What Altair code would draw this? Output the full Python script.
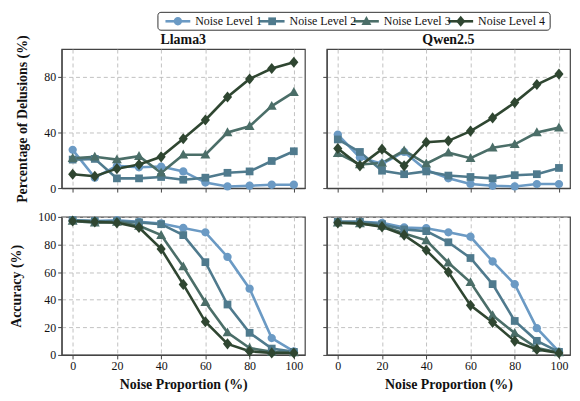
import altair as alt
import pandas as pd

noise = [0, 10, 20, 30, 40, 50, 60, 70, 80, 90, 100]
levels = ["Noise Level 1", "Noise Level 2", "Noise Level 3", "Noise Level 4"]
colors = ["#6b9ac4", "#4f7a8d", "#4b6e68", "#2f4631"]

# Percentage of delusions
llama3_del_1 = [27.5, 7.5, 16, 15, 15.5, 12, 4, 1.2, 1.7, 2.4, 2.4]
llama3_del_2 = [20.5, 21, 7, 7, 8, 6, 7.5, 11, 12, 19.5, 26.5]
llama3_del_3 = [21.5, 22.5, 20.5, 23, 11, 24, 24, 40, 44.5, 59, 69]
llama3_del_4 = [10, 8.5, 14, 17, 22.5, 35.5, 49, 65.5, 78.5, 86, 90.5]

qwen_del_1 = [38.5, 22, 17.5, 26, 13, 7, 3, 1.7, 1.2, 2.9, 2.9]
qwen_del_2 = [35, 26, 12.5, 10, 12, 9, 8, 7, 9.3, 10, 14.5]
qwen_del_3 = [25, 17, 18, 27, 17.5, 25.5, 21.5, 29, 31.5, 40, 43.5]
qwen_del_4 = [28.5, 16, 28, 16, 33, 34, 41, 50.5, 61.5, 74.5, 82]

# Accuracy
llama3_acc_1 = [97.6, 97, 97.6, 96.4, 95.2, 92, 88.8, 71, 48, 12.2, 2.6]
llama3_acc_2 = [97.6, 97, 96.9, 96, 94.7, 86.8, 67.2, 36.5, 16, 4.6, 2.2]
llama3_acc_3 = [97, 95.7, 96.4, 93.5, 86.8, 64, 38.2, 16.2, 5, 2.2, 1.7]
llama3_acc_4 = [97, 96.4, 95.7, 92.3, 76.8, 51.1, 24, 8, 2.6, 1.4, 1.4]

qwen_acc_1 = [96.4, 96.4, 95.7, 92.3, 91.8, 88.8, 85.6, 67.7, 51.2, 19.4, 2.4]
qwen_acc_2 = [96.4, 96.4, 94.7, 90.9, 89.7, 81.6, 70.2, 51.3, 24.6, 10.2, 2.2]
qwen_acc_3 = [95.7, 95.2, 93.5, 88, 83, 66.8, 52.6, 28.7, 15.8, 5, 1.7]
qwen_acc_4 = [95.7, 95.2, 92.8, 86.8, 75.8, 60, 35.9, 23.6, 10, 4, 1.4]

FONT = "Liberation Serif"

# marker shapes (unit paths, drawn with size 400 -> scale 10px)
shape_paths = [
    "M0.42,0A0.42,0.42,0,1,1,-0.42,0A0.42,0.42,0,1,1,0.42,0Z",
    "M-0.39,-0.39H0.39V0.39H-0.39Z",
    "M0,-0.52L0.5,0.38H-0.5Z",
    "M0,-0.56L0.46,0L0,0.56L-0.46,0Z",
]

color_scale = alt.Scale(domain=levels, range=colors)
shape_scale = alt.Scale(domain=levels, range=shape_paths)


def make_df(series):
    rows = []
    for lvl, vals in zip(levels, series):
        for x, v in zip(noise, vals):
            rows.append({"noise": x, "value": v, "level": lvl})
    return pd.DataFrame(rows)


# ---- custom legend (line + marker per level), drawn above the first panel ----
leg_df = pd.DataFrame({"level": levels, "row": ["legend"] * len(levels)})
leg_x = alt.X("level:N", axis=None, sort=levels,
              scale=alt.Scale(type="band", domain=levels, range=[97, 492],
                              paddingInner=0, paddingOuter=0.08))
leg_y = alt.Y("row:N", axis=None,
              scale=alt.Scale(type="band", domain=["legend"], range=[-37, -19]))
leg_base = alt.Chart(leg_df)
leg_box = alt.Chart(pd.DataFrame({"row": ["legend"]})).mark_rect(
    fillOpacity=0, stroke="#333333", strokeWidth=1, cornerRadius=3
).encode(
    x=alt.value(97), x2=alt.value(492), y=alt.value(-37), y2=alt.value(-19)
)
leg_line = leg_base.mark_tick(orient="horizontal", size=25, thickness=2.6,
                              xOffset=-35, opacity=1).encode(
    x=leg_x, y=leg_y,
    color=alt.Color("level:N", scale=color_scale, legend=None),
)
leg_pt = leg_base.mark_point(filled=True, opacity=1, size=400, xOffset=-35).encode(
    x=leg_x, y=leg_y,
    color=alt.Color("level:N", scale=color_scale, legend=None),
    shape=alt.Shape("level:N", scale=shape_scale, legend=None),
)
leg_txt = leg_base.mark_text(align="left", baseline="middle", dx=-17.5, font=FONT,
                             fontSize=12, color="#111111").encode(
    x=leg_x, y=leg_y, text="level:N",
)
legend_layer = alt.layer(leg_box, leg_line, leg_pt, leg_txt)


def panel(series, title, show_x, show_y, ytitle, with_legend=False):
    df = make_df(series)
    x_axis = alt.Axis(
        values=[0, 20, 40, 60, 80, 100], labels=show_x,
        title="Noise Proportion (%)" if show_x else None,
        grid=True, tickSize=4,
    )
    y_axis = alt.Axis(
        values=[0, 20, 40, 60, 80, 100], labels=show_y,
        title=ytitle if show_y else None, grid=True, tickSize=4,
    )
    x = alt.X("noise:Q", scale=alt.Scale(domain=[-5, 105], nice=False, zero=False), axis=x_axis)
    y = alt.Y("value:Q", scale=alt.Scale(domain=[0, 100], nice=False), axis=y_axis)
    lines = alt.Chart(df).mark_line(strokeWidth=2.6).encode(
        x=x, y=y,
        color=alt.Color("level:N", scale=color_scale, legend=None),
    )
    pts = alt.Chart(df).mark_point(filled=True, opacity=1, size=400).encode(
        x=x, y=y,
        color=alt.Color("level:N", scale=color_scale, legend=None),
        shape=alt.Shape("level:N", scale=shape_scale, legend=None),
    )
    layers = [lines, pts]
    if title:
        ttl = alt.Chart(pd.DataFrame({"t": [title]})).mark_text(
            font=FONT, fontSize=14, fontWeight="bold", color="#111111",
            align="center", baseline="alphabetic",
        ).encode(x=alt.datum(50), y=alt.datum(103.6), text="t:N")
        layers.append(ttl)
    ch = alt.layer(*layers)
    if with_legend:
        ch = alt.layer(ch, legend_layer).resolve_scale(x="independent", y="independent")
    return ch.properties(width=245, height=140 if title else 139)


top = alt.hconcat(
    panel([llama3_del_1, llama3_del_2, llama3_del_3, llama3_del_4], "Llama3", False, True,
          "Percentage of Delusions (%)", with_legend=True),
    panel([qwen_del_1, qwen_del_2, qwen_del_3, qwen_del_4], "Qwen2.5", False, False, None),
    spacing=22, bounds="flush",
)
bottom = alt.hconcat(
    panel([llama3_acc_1, llama3_acc_2, llama3_acc_3, llama3_acc_4], None, True, True, "Accuracy (%)"),
    panel([qwen_acc_1, qwen_acc_2, qwen_acc_3, qwen_acc_4], None, True, False, None),
    spacing=22, bounds="flush",
)

chart = alt.vconcat(top, bottom, spacing=6).properties(
    padding={"left": 1, "right": 1, "top": 1, "bottom": 1}
).configure_view(
    stroke="#444444", strokeWidth=1.2
).configure_axis(
    labelFont=FONT, labelFontSize=12, labelColor="#111111",
    titleFont=FONT, titleFontSize=14, titleFontWeight="bold", titleColor="#111111",
    gridColor="#bbbbbb", gridDash=[4, 3], gridWidth=0.9,
    domainColor="#444444", domainWidth=1.2, tickColor="#444444", tickWidth=1,
    labelPadding=2,
).configure_axisY(
    titlePadding=14,
).configure_axisX(
    titlePadding=6,
)

chart.save("out.html", embed_options={"renderer": "svg", "actions": False})
